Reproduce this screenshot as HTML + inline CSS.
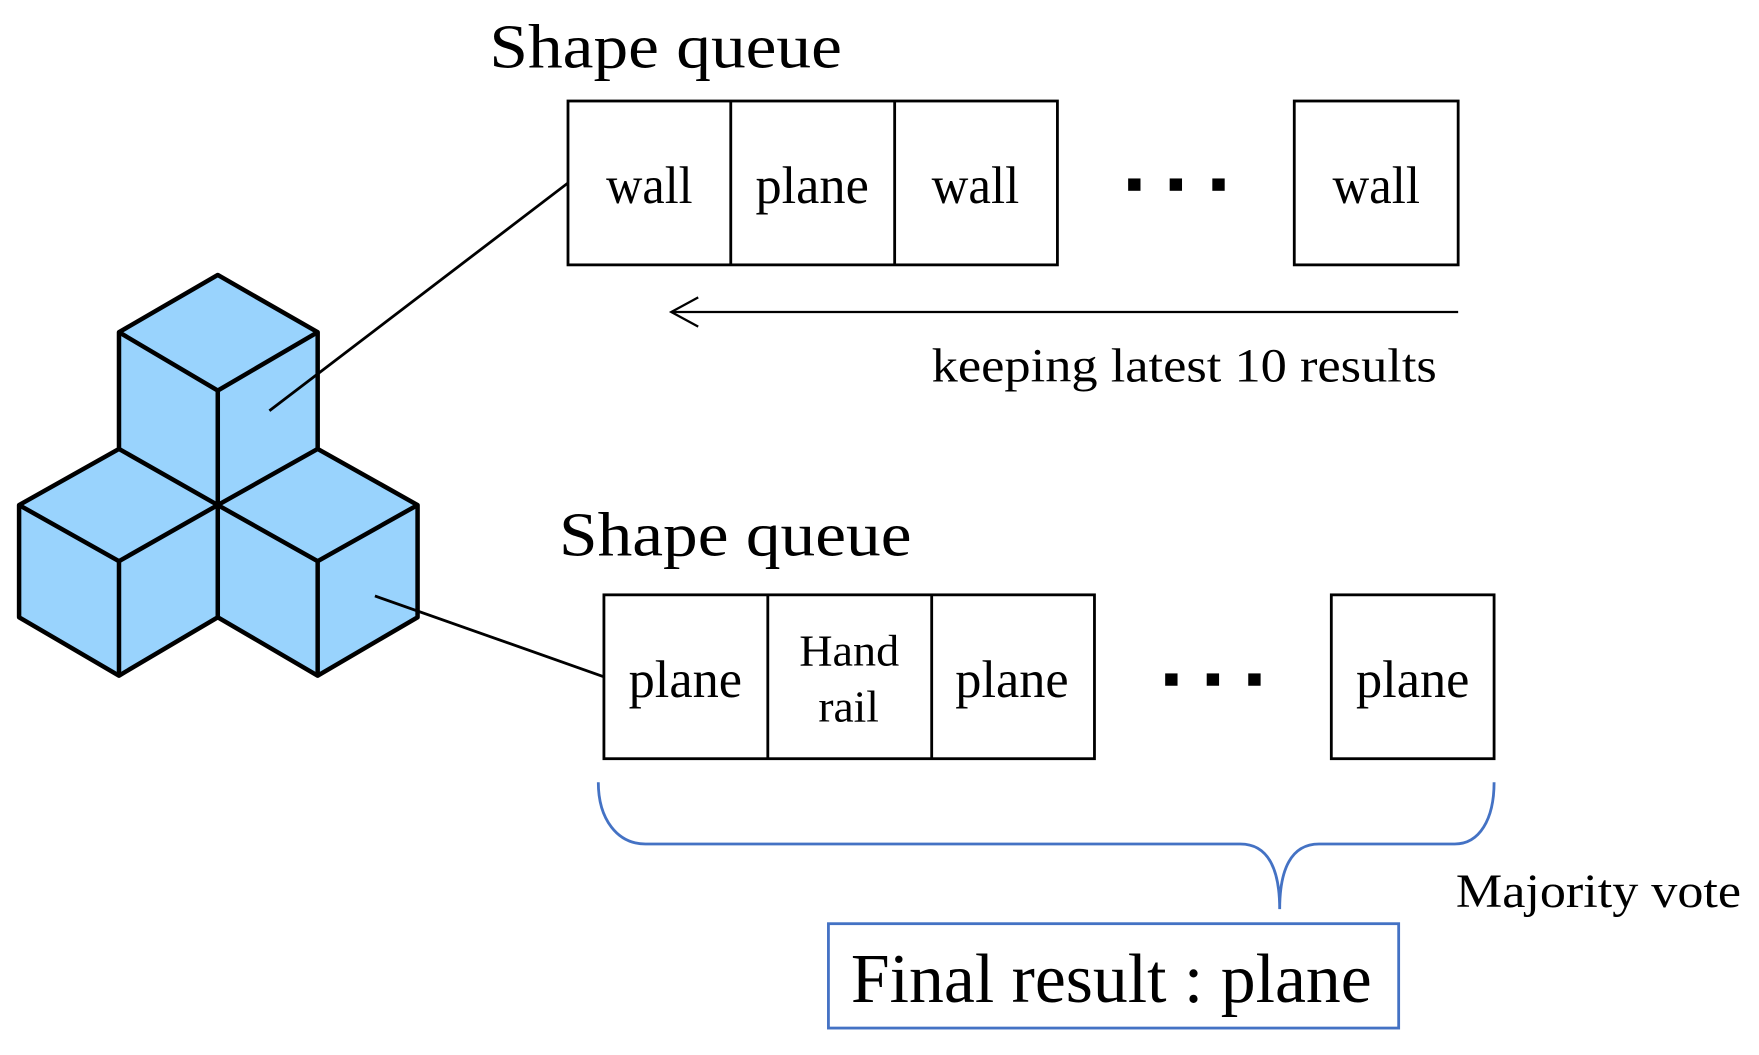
<!DOCTYPE html>
<html><head><style>html,body{margin:0;padding:0;background:#fff;width:1759px;height:1055px;overflow:hidden}</style></head>
<body>
<svg width="1759" height="1055" viewBox="0 0 1567 940" preserveAspectRatio="none" xmlns="http://www.w3.org/2000/svg" style="display:block">
<g font-family="Liberation Serif, serif" fill="#000">
<text x="436" y="60" font-size="56" textLength="314" lengthAdjust="spacingAndGlyphs">Shape queue</text>
<text x="498" y="495" font-size="56" textLength="314" lengthAdjust="spacingAndGlyphs">Shape queue</text>
<text x="830" y="340" font-size="42" textLength="450" lengthAdjust="spacingAndGlyphs">keeping latest 10 results</text>
<text x="1297" y="808" font-size="42" textLength="254" lengthAdjust="spacingAndGlyphs">Majority vote</text>
</g>
<g fill="none" stroke="#000" stroke-width="2.5">
<rect x="506" y="90" width="436" height="146"/>
<line x1="651" y1="90" x2="651" y2="236"/><line x1="797" y1="90" x2="797" y2="236"/>
<rect x="1153" y="90" width="146" height="146"/>
<rect x="538" y="530" width="437" height="146"/>
<line x1="684" y1="530" x2="684" y2="676"/><line x1="830" y1="530" x2="830" y2="676"/>
<rect x="1186" y="530" width="145" height="146"/>
</g>
<g font-family="Liberation Serif, serif" font-size="47">
<text x="540" y="181" textLength="77" lengthAdjust="spacingAndGlyphs">wall</text>
<text x="673" y="181" textLength="101" lengthAdjust="spacingAndGlyphs">plane</text>
<text x="830" y="181" textLength="78" lengthAdjust="spacingAndGlyphs">wall</text>
<text x="1187" y="181" textLength="78" lengthAdjust="spacingAndGlyphs">wall</text>
<text x="560" y="621" textLength="101" lengthAdjust="spacingAndGlyphs">plane</text>
<text x="851" y="621" textLength="101" lengthAdjust="spacingAndGlyphs">plane</text>
<text x="1208" y="621" textLength="101" lengthAdjust="spacingAndGlyphs">plane</text>
<text x="712" y="593" font-size="40" textLength="89" lengthAdjust="spacingAndGlyphs">Hand</text>
<text x="729" y="643" font-size="40" textLength="54" lengthAdjust="spacingAndGlyphs">rail</text>
</g>
<g fill="#000">
<rect x="1005" y="159" width="11" height="11"/><rect x="1042" y="159" width="11" height="11"/><rect x="1080" y="159" width="11" height="11"/>
<rect x="1038" y="600" width="11" height="11"/><rect x="1075" y="600" width="11" height="11"/><rect x="1112" y="600" width="11" height="11"/>
</g>
<g stroke="#000" stroke-width="2" fill="none">
<line x1="1299" y1="278" x2="598" y2="278"/>
<polyline points="622,265 598,278 622,291"/>
</g>
<g stroke="#000" stroke-width="4" stroke-linejoin="round" fill="#99d3fd">
<polygon points="194,245 283,296 283,400 372,450 372,550 283,602 194,550 106,602 17,550 17,450 106,400 106,296"/>
<polyline fill="none" points="106,296 194,348 283,296"/>
<line x1="194" y1="348" x2="194" y2="550"/>
<polyline fill="none" points="106,400 194,450 283,400"/>
<polyline fill="none" points="17,450 106,500 194,450 283,500 372,450"/>
<line x1="106" y1="500" x2="106" y2="602"/>
<line x1="283" y1="500" x2="283" y2="602"/>
</g>
<g stroke="#000" stroke-width="2.5">
<line x1="240" y1="366" x2="506" y2="163"/>
<line x1="334" y1="531" x2="538" y2="603"/>
</g>
<path d="M533,697 C533,730 550,752 575,752 L1105,752 C1130,752 1140,775 1140,810 C1140,775 1150,752 1175,752 L1296,752 C1318,752 1331,730 1331,697" fill="none" stroke="#4472c4" stroke-width="2.5"/>
<rect x="738" y="823" width="508" height="93" fill="none" stroke="#4472c4" stroke-width="2.5"/>
<text x="758" y="893" font-family="Liberation Serif, serif" font-size="62" textLength="464" lengthAdjust="spacingAndGlyphs">Final result : plane</text>
</svg>
</body></html>
